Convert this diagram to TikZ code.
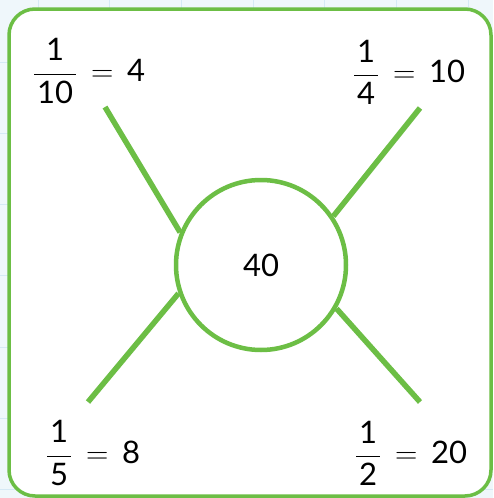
\documentclass[tikz,border=0pt]{standalone}
\usepackage{fix-cm}
\usepackage{amsmath}
\usepackage{fontspec}
\setmainfont{Lato}
\usetikzlibrary{positioning}
\definecolor{cgreen}{HTML}{6CBE45}
\definecolor{cpaper}{HTML}{EFF7FB}
\definecolor{cgrid}{HTML}{D5E9F5}
\tikzset{
  every picture/.style={x=1pt, y=-1pt},
  hub/.style={circle, draw=cgreen, fill=white, line width=4.5pt, minimum size=170pt, inner sep=0pt, font=\fontsize{31}{34}\selectfont},
  part/.style={font=\fontsize{31}{34}\selectfont, inner sep=0pt},
  spoke/.style={draw=cgreen, line width=5.5pt},
  frame/.style={draw=cgreen, fill=white, line width=3.5pt, rounded corners=26pt},
}
\newcommand{\pfrac}[3]{$\dfrac{\text{#1}}{\hspace{3pt}\text{#2}\hspace{3pt}} \,=\, \text{#3}$}

\begin{document}
\begin{tikzpicture}
  \useasboundingbox (0,0) rectangle (493,498);
  % squared paper behind the card
  \fill[cpaper] (0,0) rectangle (493,498);
  \foreach \i in {0,...,6} {
    \draw[cgrid, line width=1pt] ({38+71.7*\i},0) -- ({38+71.7*\i},498);
    \draw[cgrid, line width=1pt] (0,{62+71.3*\i}) -- (493,{62+71.3*\i});
  }
  \draw[frame] (9,9) rectangle (491,496);
  % whole in the middle
  \node[hub] (whole) at (261,265) {40};
  % parts
  \node[part] (tenth)   at (89,71)   {\pfrac{1}{10}{4}};
  \node[part] (quarter) at (409,72)  {\pfrac{1}{4}{10}};
  \node[part] (fifth)   at (93,453)  {\pfrac{1}{5}{8}};
  \node[part] (half)    at (411,453) {\pfrac{1}{2}{20}};
  \coordinate (tenthend)   at (105,107);
  \coordinate (quarterend) at (420,108);
  \coordinate (fifthend)   at (88,402);
  \coordinate (halfend)    at (420,402);
  \draw[spoke] (tenthend) -- (whole.158);
  \draw[spoke] (quarterend) -- (whole.34);
  \draw[spoke] (fifthend) -- (whole.199);
  \draw[spoke] (halfend) -- (whole.330);
\end{tikzpicture}
\end{document}
